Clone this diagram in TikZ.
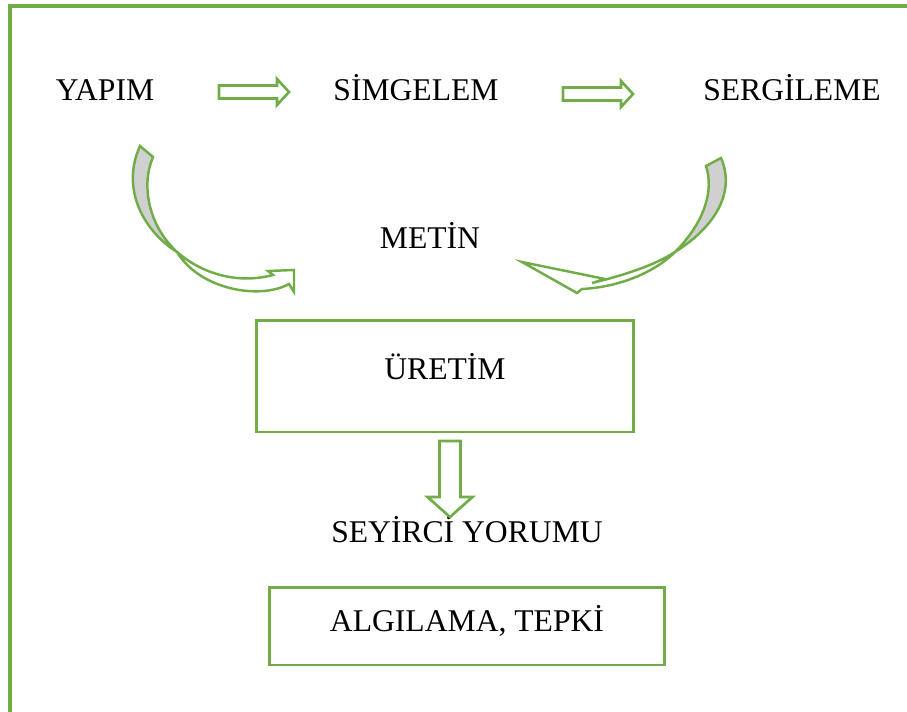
\documentclass[tikz,border=0pt]{standalone}
\usepackage{fontspec}
\setmainfont{Liberation Serif}
\definecolor{framegreen}{HTML}{70AD47}
\definecolor{backgray}{HTML}{D0D0D0}

\begin{document}
\begin{tikzpicture}[x=0.02cm, y=-0.02cm,
		lbl/.style={anchor=base, inner sep=0pt, font=\fontsize{18}{22}\selectfont},
		box/.style={draw=framegreen, line width=1.7pt, inner sep=0pt, text height=0.42cm, font=\fontsize{18}{22}\selectfont},
		blockarrow/.style={draw=framegreen, line width=1.5pt, fill=white, line join=miter},
		bendarrow/.style={draw=framegreen, line width=1.4pt, fill=white, line join=miter},
		bendback/.style={bendarrow, fill=backgray}]
	\clip (0,0) rectangle (907,711);
	\draw[framegreen, line width=1.9pt] (10,6) rectangle (940,740);

	% top row
	\node[lbl] (yapim) at (105,100) {YAPIM};
	\node[lbl] (simgelem) at (416,100) {SİMGELEM};
	\node[lbl] (sergileme) at (792,100) {SERGİLEME};
	\node[lbl] (metin) at (430,248) {METİN};

	% boxes
	\node[box, minimum width=7.56cm, minimum height=2.24cm, text depth=0.28cm] (uretim) at (445,376) {ÜRETİM};
	\node[lbl] (seyirci) at (467,542) {SEYİRCİ YORUMU};
	\node[box, minimum width=7.92cm, minimum height=1.56cm, text depth=0.2cm] (algilama) at (467,626) {ALGILAMA, TEPKİ};

	% block arrows
	\coordinate (a1) at (219,92);
	\coordinate (a2) at (563,94);
	\foreach \a in {a1,a2} {
		\draw[blockarrow] (\a) ++(0,-6.5) -- ++(58,0) -- ++(0,-6.5) -- ++(12,13)
			-- ++(-12,13) -- ++(0,-6.5) -- ++(-58,0) -- cycle;
	}
	\coordinate (a3) at (450,441);
	\draw[blockarrow] (a3) ++(-10.5,0) -- ++(0,56) -- ++(-12,0) -- ++(22.5,20)
		-- ++(22.5,-20) -- ++(-12,0) -- ++(0,-56) -- cycle;

	% curved arrow on the left
	\draw[bendarrow] (177,252) .. controls (200,272) and (235,285) .. (273,275)
		-- (268,271) -- (294,270) -- (294,292) -- (289,284)
		.. controls (260,300) and (200,290) .. (177,252) -- cycle;
	\draw[bendback] (140,146) -- (153,157) .. controls (141,185) and (148,225) .. (177,252)
		.. controls (145,232) and (120,190) .. (140,146) -- cycle;

	% curved arrow on the right
	\draw[bendarrow] (675,252) .. controls (655,265) and (625,275) .. (592,283)
		-- (605,279) -- (522,262) -- (577,293) -- (582,289)
		.. controls (620,287) and (655,272) .. (675,252) -- cycle;
	\draw[bendback] (706,166) -- (721,158) .. controls (735,190) and (718,225) .. (675,252)
		.. controls (705,222) and (714,190) .. (706,166) -- cycle;
\end{tikzpicture}
\end{document}
